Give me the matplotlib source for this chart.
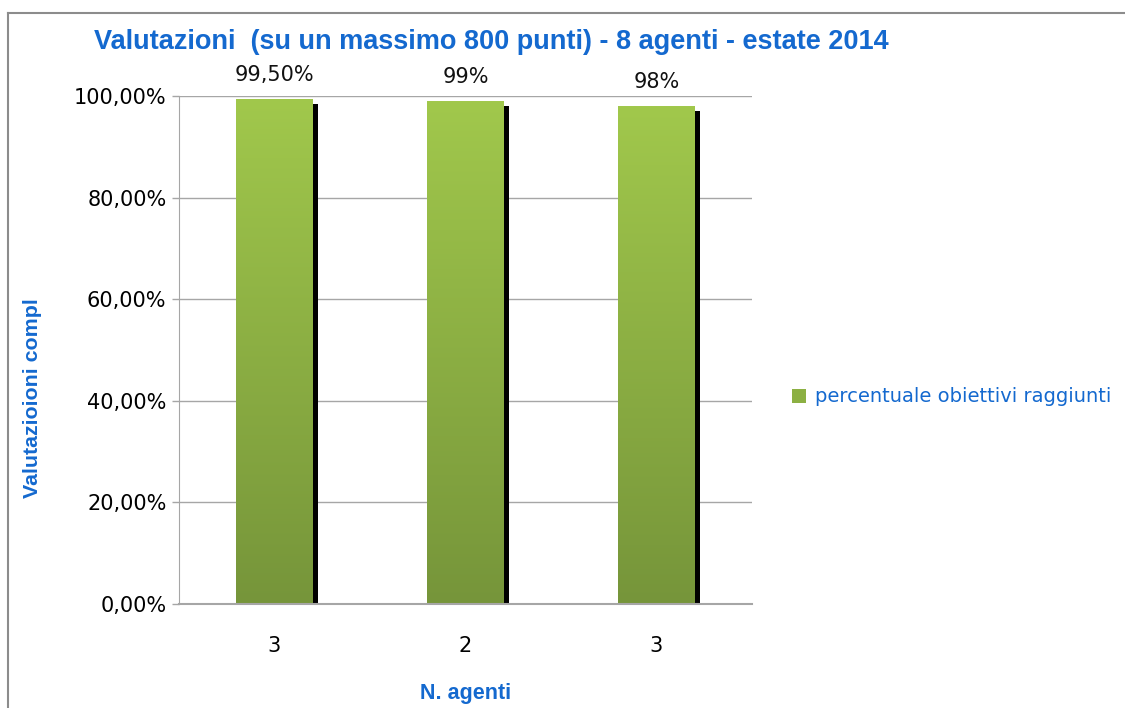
import numpy as np
import matplotlib
matplotlib.use("Agg")
import matplotlib.pyplot as plt
from matplotlib.patches import Patch
from matplotlib.lines import Line2D
from matplotlib.colors import LinearSegmentedColormap
from matplotlib.transforms import offset_copy
from matplotlib.ticker import FuncFormatter

# dati
categorie = ["3", "2", "3"]
valori = [99.5, 99.0, 98.0]
etichette = ["99,50%", "99%", "98%"]
yticks = [0, 20, 40, 60, 80, 100]

blu = "#1469CF"
griglia = "#A6A6A6"
verde = LinearSegmentedColormap.from_list("verde", ["#76953A", "#A1C84C"])

fig = plt.figure(figsize=(11.25, 7.08), dpi=100)
ax = fig.add_axes([0.1591, 0.1469, 0.5093, 0.7175])

x = np.arange(len(categorie)) + 0.5
larg = 0.4

# ombra nera spostata in basso a destra
ombra = offset_copy(ax.transData, fig=fig, x=3.6, y=-3.6, units="points")
ax.bar(x, valori, width=larg, color="black", transform=ombra, zorder=2)

# barre con sfumatura verticale
barre = ax.bar(x, valori, width=larg, color="none", zorder=3)
grad = np.linspace(0, 1, 256).reshape(-1, 1)
for b in barre:
    x0, y0 = b.get_x(), b.get_y()
    w, h = b.get_width(), b.get_height()
    im = ax.imshow(grad, cmap=verde, origin="lower", aspect="auto",
                   extent=[x0, x0 + w, y0, y0 + h], zorder=3)
    im.set_clip_path(b)

for xi, v, t in zip(x, valori, etichette):
    ax.annotate(t, (xi, v), xytext=(0, 10), textcoords="offset points",
                ha="center", va="bottom", fontsize=15, color="#111111")

ax.set_xlim(0, 3)
ax.set_ylim(0, 100)
ax.set_xticks(x)
ax.set_xticklabels(categorie)
ax.set_yticks(yticks)
ax.yaxis.set_major_formatter(FuncFormatter(lambda v, p: f"{v:.2f}%".replace(".", ",")))
ax.tick_params(axis="x", length=0, pad=23, labelsize=15)
ax.tick_params(axis="y", length=5, width=1, color=griglia, pad=4, labelsize=15)
ax.grid(axis="y", color=griglia, linewidth=1, zorder=0)
ax.set_axisbelow(True)
ax.axhline(0, color=griglia, linewidth=1.5, clip_on=False, zorder=4)
for s in ["top", "right", "bottom"]:
    ax.spines[s].set_visible(False)
ax.spines["left"].set_color(griglia)

fig.text(0.4364, 0.9407, "Valutazioni  (su un massimo 800 punti) - 8 agenti - estate 2014",
         ha="center", va="center", fontsize=19.5, fontweight="bold", color=blu,
         family="Liberation Sans")
fig.text(0.0285, 0.4379, "Valutazioioni compl", rotation=90, ha="center", va="center",
         fontsize=15.4, fontweight="bold", color=blu, family="Liberation Sans")
fig.text(0.4142, 0.0198, "N. agenti", ha="center", va="center",
         fontsize=15.5, fontweight="bold", color=blu, family="Liberation Sans")

fig.legend(handles=[Patch(facecolor="#8CB043", edgecolor="none",
                          label="percentuale obiettivi raggiunti")],
           loc="center left", bbox_to_anchor=(0.695, 0.4393), frameon=False,
           fontsize=14, labelcolor=blu, handlelength=0.75, handleheight=0.75,
           handletextpad=0.45, borderpad=0)

# cornice del grafico
fig.add_artist(Line2D([8 / 1125, 1], [1 - 13 / 708] * 2, color="#8C8C8C", lw=1.5))
fig.add_artist(Line2D([8 / 1125] * 2, [0, 1 - 13 / 708], color="#8C8C8C", lw=1.5))

fig.savefig("out.png", dpi=100)
